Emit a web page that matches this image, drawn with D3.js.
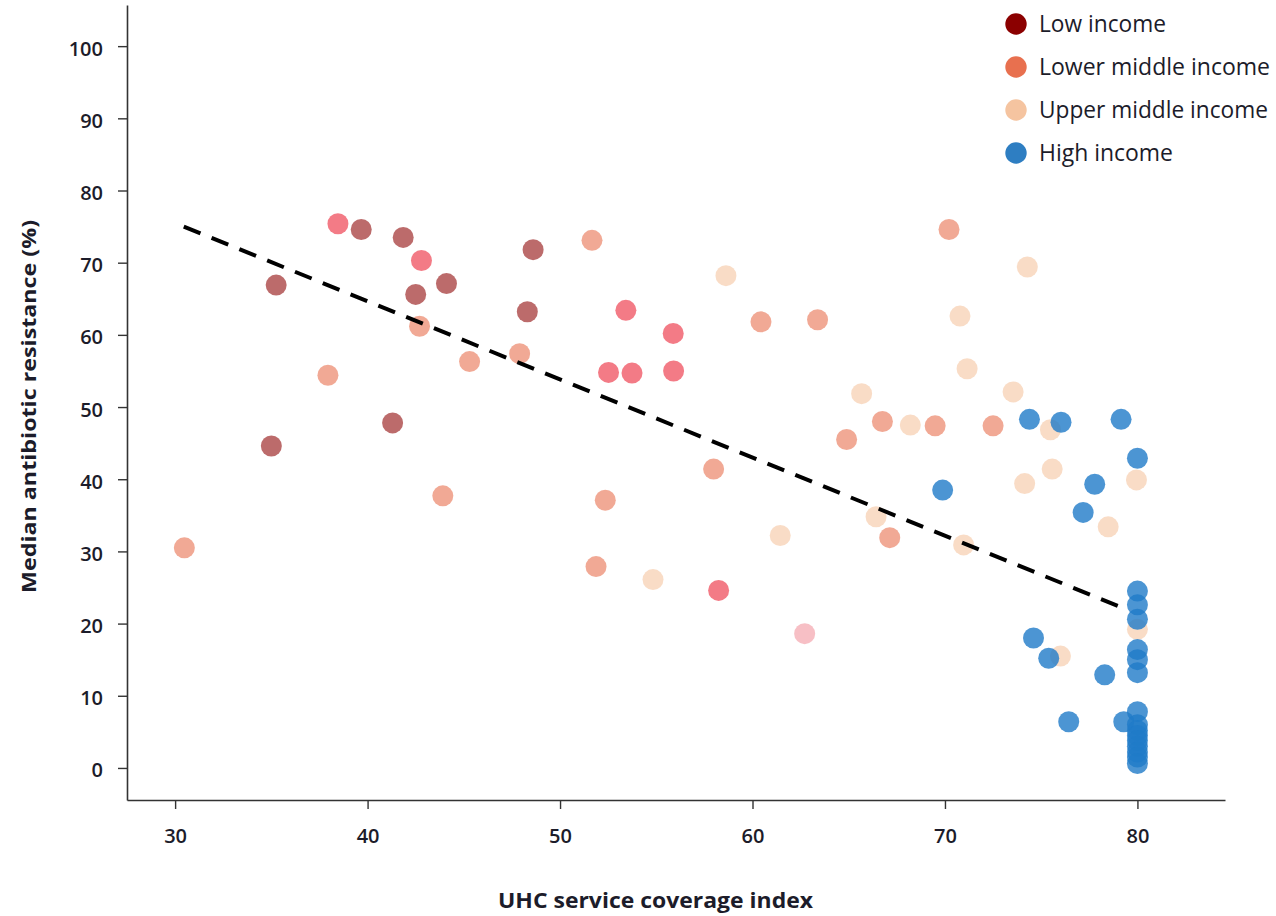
<!DOCTYPE html>
<html><head><meta charset="utf-8">
<script src="https://cdn.jsdelivr.net/npm/d3@7"></script>
<style>body{margin:0;background:#fff}svg{display:block}</style>
</head><body><svg id="c" width="1276" height="916"></svg>
<script>
// ---- data ----
const categories = ["Low income","Lower middle income","Upper middle income","High income"];
const legendColors = ["#8b0000","#e8704f","#f5c4a0","#2e7ec2"];

const lowX = [35.25,35.0,39.67,41.85,42.5,44.1,41.3,48.6,48.3];
const lowY = [66.9,44.6,74.6,73.5,65.6,67.1,47.8,71.8,63.2];

const pinkX = [38.46,42.8,53.42,52.52,53.74,55.88,55.9,58.24];
const pinkY = [75.4,70.3,63.4,54.8,54.7,60.2,55.0,24.6];

const lightPinkX = [62.71];
const lightPinkY = [18.6];

const lowerMidX = [42.7,45.3,47.9,37.94,51.66,60.44,63.38,70.21,66.75,69.49,64.89,72.5,57.98,67.13,43.91,52.35,30.48,51.87];
const lowerMidY = [61.2,56.3,57.4,54.4,73.1,61.8,62.1,74.6,48.0,47.4,45.5,47.4,41.4,31.9,37.7,37.1,30.5,27.9];

const upperMidX = [58.62,70.78,71.15,65.67,68.2,74.28,73.54,75.48,79.95,75.57,74.14,78.48,66.42,61.44,70.97,54.83,80.0,76.0];
const upperMidY = [68.2,62.6,55.3,51.85,47.5,69.4,52.1,46.85,39.9,41.4,39.4,33.4,34.8,32.2,30.9,26.1,19.2,15.5];

const highX = [74.39,76.03,79.15,80.0,77.78,77.18,69.88,80,80,80,74.6,75.39,80,80,80,78.3,76.43,79.29,80,80,80,80,80,80,80,80,80];
const highY = [48.3,47.9,48.3,42.9,39.3,35.4,38.5,24.5,22.6,20.6,18.0,15.2,16.4,15.0,13.2,12.9,6.4,6.4,7.8,6.0,5.2,4.5,3.8,3.0,2.2,1.5,0.6];

const trendX = [30.45, 79.4];
const trendY = [75.0, 22.0];

const xTicks = [30,40,50,60,70,80];
const yTicks = [0,10,20,30,40,50,60,70,80,90,100];

// ---- drawing ----
const svg = d3.select("#c");
const x = d3.scaleLinear().domain([27.5, 84.55]).range([127, 1225]);
const y = d3.scaleLinear().domain([-4.44, 105.7]).range([800, 5]);
const textCol = "#1c1c2a";
const font = "'Open Sans', sans-serif";

const series = [
  {xs: lowerMidX, ys: lowerMidY, fill: "#e8704f", op: 0.6},
  {xs: upperMidX, ys: upperMidY, fill: "#f5c4a0", op: 0.6},
  {xs: lowX, ys: lowY, fill: "#8b0000", op: 0.58},
  {xs: pinkX, ys: pinkY, fill: "#ef4f5e", op: 0.75},
  {xs: lightPinkX, ys: lightPinkY, fill: "#f08a95", op: 0.55},
  {xs: highX, ys: highY, fill: "#1f7ac8", op: 0.8}
];

const gPts = svg.append("g");
series.forEach(s => {
  gPts.selectAll(null).data(s.xs.map((v,i)=>[v,s.ys[i]])).enter()
    .append("circle")
    .attr("cx", d => x(d[0])).attr("cy", d => y(d[1])).attr("r", 10.5)
    .attr("fill", s.fill).attr("fill-opacity", s.op);
});

// trend line
svg.append("path")
  .datum(trendX.map((v,i)=>[v,trendY[i]]))
  .attr("d", d3.line().x(d=>x(d[0])).y(d=>y(d[1])))
  .attr("fill","none").attr("stroke","#000").attr("stroke-width",4)
  .attr("stroke-dasharray","18,12");

// axes
const yAxis = svg.append("g").attr("transform","translate(127,0)")
  .call(d3.axisLeft(y).tickValues(yTicks).tickSize(9).tickPadding(15).tickSizeOuter(0));
yAxis.select(".domain").attr("stroke","#333").attr("stroke-width",1.6);
yAxis.selectAll(".tick line").attr("stroke","#333").attr("stroke-width",1.4);
yAxis.selectAll(".tick text").attr("fill",textCol).attr("dy","0.45em")
  .style("font-family",font).style("font-size","20px").style("font-weight","600");

const xAxis = svg.append("g").attr("transform","translate(0,800)")
  .call(d3.axisBottom(x).tickValues(xTicks).tickSize(9).tickPadding(20).tickSizeOuter(0));
xAxis.select(".domain").attr("stroke","#333").attr("stroke-width",1.6);
xAxis.selectAll(".tick line").attr("stroke","#333").attr("stroke-width",1.4);
xAxis.selectAll(".tick text").attr("fill",textCol)
  .style("font-family",font).style("font-size","20px").style("font-weight","600");

// axis titles
svg.append("text").attr("x", 655.5).attr("y", 908).attr("text-anchor","middle")
  .attr("textLength",315).attr("lengthAdjust","spacingAndGlyphs")
  .attr("fill",textCol).style("font-family",font)
  .style("font-size","21px").style("font-weight","700").text("UHC service coverage index");
svg.append("text").attr("transform","translate(36,406.5) rotate(-90)").attr("text-anchor","middle")
  .attr("textLength",373).attr("lengthAdjust","spacingAndGlyphs")
  .attr("fill",textCol).style("font-family",font)
  .style("font-size","20px").style("font-weight","700").text("Median antibiotic resistance (%)");

// legend
const legendW = [127,231,229,134];
const lg = svg.append("g");
categories.forEach((c,i) => {
  const cy = 24 + i*43;
  lg.append("circle").attr("cx",1016).attr("cy",cy).attr("r",10.7).attr("fill",legendColors[i]);
  lg.append("text").attr("x",1039).attr("y",cy+8).attr("fill",textCol)
    .attr("textLength",legendW[i]).attr("lengthAdjust","spacingAndGlyphs")
    .style("font-family",font).style("font-size","23px").text(c);
});
</script></body></html>
